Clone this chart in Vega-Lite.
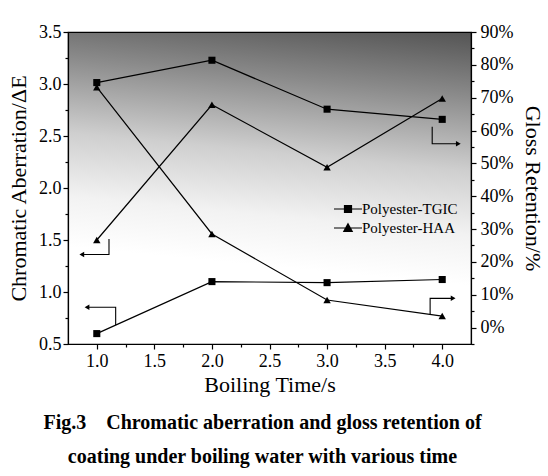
{
  "$schema": "https://vega.github.io/schema/vega-lite/v6.json",
  "width": 403,
  "height": 312,
  "autosize": {"type": "none"},
  "padding": {"left": 68, "top": 32, "right": 77, "bottom": 132},
  "background": "white",
  "datasets": {
    "series": [
      {"t": 1, "v": 0.6, "series": "Polyester-TGIC", "axis": "left"},
      {"t": 2, "v": 1.1, "series": "Polyester-TGIC", "axis": "left"},
      {"t": 3, "v": 1.09, "series": "Polyester-TGIC", "axis": "left"},
      {"t": 4, "v": 1.12, "series": "Polyester-TGIC", "axis": "left"},
      {"t": 1, "v": 1.5, "series": "Polyester-HAA", "axis": "left"},
      {"t": 2, "v": 2.8, "series": "Polyester-HAA", "axis": "left"},
      {"t": 3, "v": 2.2, "series": "Polyester-HAA", "axis": "left"},
      {"t": 4, "v": 2.86, "series": "Polyester-HAA", "axis": "left"},
      {"t": 1, "v": 74.6, "series": "Polyester-TGIC", "axis": "right"},
      {"t": 2, "v": 81.4, "series": "Polyester-TGIC", "axis": "right"},
      {"t": 3, "v": 66.5, "series": "Polyester-TGIC", "axis": "right"},
      {"t": 4, "v": 63.4, "series": "Polyester-TGIC", "axis": "right"},
      {"t": 1, "v": 73.2, "series": "Polyester-HAA", "axis": "right"},
      {"t": 2, "v": 28.5, "series": "Polyester-HAA", "axis": "right"},
      {"t": 3, "v": 8.4, "series": "Polyester-HAA", "axis": "right"},
      {"t": 4, "v": 3.5, "series": "Polyester-HAA", "axis": "right"}
    ],
    "arrows": [
      {"arrow": "a", "i": 1, "t": 1.106, "v": 1.51},
      {"arrow": "a", "i": 2, "t": 1.106, "v": 1.36},
      {"arrow": "a", "i": 3, "t": 0.87, "v": 1.36},
      {"arrow": "b", "i": 1, "t": 1.164, "v": 0.683},
      {"arrow": "b", "i": 2, "t": 1.164, "v": 0.853},
      {"arrow": "b", "i": 3, "t": 0.915, "v": 0.853},
      {"arrow": "c", "i": 1, "t": 3.913, "v": 2.59},
      {"arrow": "c", "i": 2, "t": 3.913, "v": 2.426},
      {"arrow": "c", "i": 3, "t": 4.14, "v": 2.426},
      {"arrow": "d", "i": 1, "t": 3.895, "v": 0.788},
      {"arrow": "d", "i": 2, "t": 3.895, "v": 0.939},
      {"arrow": "d", "i": 3, "t": 4.095, "v": 0.939}
    ],
    "heads": [
      {"t": 0.87, "v": 1.36, "dir": "left"},
      {"t": 0.915, "v": 0.853, "dir": "left"},
      {"t": 4.14, "v": 2.426, "dir": "right"},
      {"t": 4.095, "v": 0.939, "dir": "right"}
    ]
  },
  "title": {
    "text": ["Fig.3\u00a0\u00a0\u00a0\u00a0Chromatic aberration and gloss retention of", "coating under boiling water with various time"],
    "orient": "bottom",
    "anchor": "middle",
    "font": "Liberation Serif",
    "fontSize": 20,
    "fontWeight": "bold",
    "lineHeight": 34,
    "offset": 18,
    "dx": -7,
    "color": "black"
  },
  "encoding": {
    "x": {
      "field": "t",
      "type": "quantitative",
      "scale": {"domain": [0.75, 4.25], "nice": false, "zero": false},
      "axis": {
        "title": "Boiling Time/s",
        "values": [1, 1.25, 1.5, 1.75, 2, 2.25, 2.5, 2.75, 3, 3.25, 3.5, 3.75, 4],
        "labelExpr": "datum.value * 2 % 1 == 0 ? format(datum.value, '.1f') : ''",
        "tickSize": {"condition": {"test": "datum.value * 2 % 1 == 0", "value": 5}, "value": 3},
        "labelPadding": 3,
        "labelFlush": false,
        "labelOverlap": false,
        "titlePadding": 4
      }
    }
  },
  "layer": [
    {
      "encoding": {
        "y": {
          "field": "v",
          "type": "quantitative",
          "scale": {"domain": [0.5, 3.5], "nice": false, "zero": false},
          "axis": {
            "orient": "left",
            "title": "Chromatic Aberration/ΔE",
            "values": [0.5, 0.75, 1, 1.25, 1.5, 1.75, 2, 2.25, 2.5, 2.75, 3, 3.25, 3.5],
            "labelExpr": "datum.value * 2 % 1 == 0 ? format(datum.value, '.1f') : ''",
            "tickSize": {"condition": {"test": "datum.value * 2 % 1 == 0", "value": 5}, "value": 3},
            "labelPadding": 2,
            "labelOverlap": false,
            "titlePadding": 8
          }
        }
      },
      "layer": [
        {
          "data": {"name": "series"},
          "transform": [{"filter": "datum.axis == 'left'"}],
          "mark": {"type": "line", "color": "black", "strokeWidth": 1.2},
          "encoding": {"detail": {"field": "series"}}
        },
        {
          "data": {"name": "series"},
          "transform": [{"filter": "datum.axis == 'left' && datum.series == 'Polyester-TGIC'"}],
          "mark": {"type": "point", "shape": "square", "filled": true, "color": "black", "opacity": 1, "size": 50},
          "encoding": {}
        },
        {
          "data": {"name": "series"},
          "transform": [{"filter": "datum.axis == 'left' && datum.series == 'Polyester-HAA'"}],
          "mark": {"type": "point", "shape": "triangle-up", "filled": true, "color": "black", "opacity": 1, "size": 55},
          "encoding": {}
        },
        {
          "data": {"name": "series"},
          "transform": [{"filter": "false"}],
          "mark": {"type": "point", "filled": false, "color": "black", "strokeWidth": 1.2, "opacity": 1},
          "encoding": {
            "shape": {
              "field": "series",
              "type": "nominal",
              "scale": {
                "domain": ["Polyester-TGIC", "Polyester-HAA"],
                "range": [
                  "M-1.4,0H1.4M-0.35,-0.35H0.35V0.35H-0.35ZM-0.35,-0.25H0.35M-0.35,-0.15H0.35M-0.35,-0.05H0.35M-0.35,0.05H0.35M-0.35,0.15H0.35M-0.35,0.25H0.35",
                  "M-1.4,0H1.4M0,-0.42L0.42,0.34H-0.42ZM-0.05,-0.32H0.05M-0.11,-0.22H0.11M-0.17,-0.12H0.17M-0.22,-0.02H0.22M-0.28,0.08H0.28M-0.33,0.18H0.33M-0.39,0.28H0.39"
                ]
              },
              "legend": {
                "title": null,
                "orient": "none",
                "legendX": 269,
                "legendY": 166,
                "padding": 0,
                "rowPadding": 0,
                "symbolSize": 400,
                "symbolStrokeColor": "black",
                "symbolStrokeWidth": 1.2,
                "labelFont": "Liberation Serif",
                "labelFontSize": 15,
                "labelColor": "black",
                "labelOffset": 3,
                "encode": {
                  "symbols": {
                    "fill": {"value": "black"}
                  }
                }
              }
            }
          }
        },
        {
          "data": {"name": "arrows"},
          "mark": {"type": "line", "color": "black", "strokeWidth": 1.1},
          "encoding": {"detail": {"field": "arrow"}, "order": {"field": "i", "type": "quantitative"}}
        },
        {
          "data": {"name": "heads"},
          "transform": [{"filter": "datum.dir == 'left'"}],
          "mark": {"type": "point", "shape": "triangle-left", "filled": true, "color": "black", "opacity": 1, "size": 30},
          "encoding": {}
        },
        {
          "data": {"name": "heads"},
          "transform": [{"filter": "datum.dir == 'right'"}],
          "mark": {"type": "point", "shape": "triangle-right", "filled": true, "color": "black", "opacity": 1, "size": 30},
          "encoding": {}
        }
      ]
    },
    {
      "data": {"name": "series"},
      "transform": [{"filter": "datum.axis == 'right'"}],
      "encoding": {
        "y": {
          "field": "v",
          "type": "quantitative",
          "scale": {"domain": [-5, 90], "nice": false, "zero": false},
          "axis": {
            "orient": "right",
            "title": "Gloss Retention/%",
            "values": [-5, 0, 5, 10, 15, 20, 25, 30, 35, 40, 45, 50, 55, 60, 65, 70, 75, 80, 85, 90],
            "labelExpr": "datum.value % 10 == 0 ? datum.value + '%' : ''",
            "tickSize": {"condition": {"test": "datum.value % 10 == 0", "value": 5}, "value": 3},
            "labelPadding": 4,
            "labelOverlap": false,
            "titlePadding": 8
          }
        }
      },
      "layer": [
        {
          "mark": {"type": "line", "color": "black", "strokeWidth": 1.2},
          "encoding": {"detail": {"field": "series"}}
        },
        {
          "transform": [{"filter": "datum.series == 'Polyester-TGIC'"}],
          "mark": {"type": "point", "shape": "square", "filled": true, "color": "black", "opacity": 1, "size": 50},
          "encoding": {}
        },
        {
          "transform": [{"filter": "datum.series == 'Polyester-HAA'"}],
          "mark": {"type": "point", "shape": "triangle-up", "filled": true, "color": "black", "opacity": 1, "size": 55},
          "encoding": {}
        }
      ]
    }
  ],
  "resolve": {"scale": {"y": "independent"}},
  "config": {
    "view": {
      "stroke": "black",
      "strokeWidth": 1.2,
      "fill": {
        "gradient": "linear",
        "x1": 1, "y1": 0, "x2": 0.9, "y2": 0.8,
        "stops": [
          {"offset": 0, "color": "#545454"},
          {"offset": 0.25, "color": "#8a8a8a"},
          {"offset": 0.55, "color": "#cfcfcf"},
          {"offset": 0.8, "color": "#f2f2f2"},
          {"offset": 1, "color": "#ffffff"}
        ]
      }
    },
    "axis": {
      "grid": false,
      "domainColor": "black",
      "domainWidth": 1.2,
      "tickColor": "black",
      "tickWidth": 1.2,
      "labelFont": "Liberation Serif",
      "labelFontSize": 18,
      "labelColor": "black",
      "titleFont": "Liberation Serif",
      "titleFontSize": 22,
      "titleFontWeight": "normal",
      "titleColor": "black"
    }
  }
}
